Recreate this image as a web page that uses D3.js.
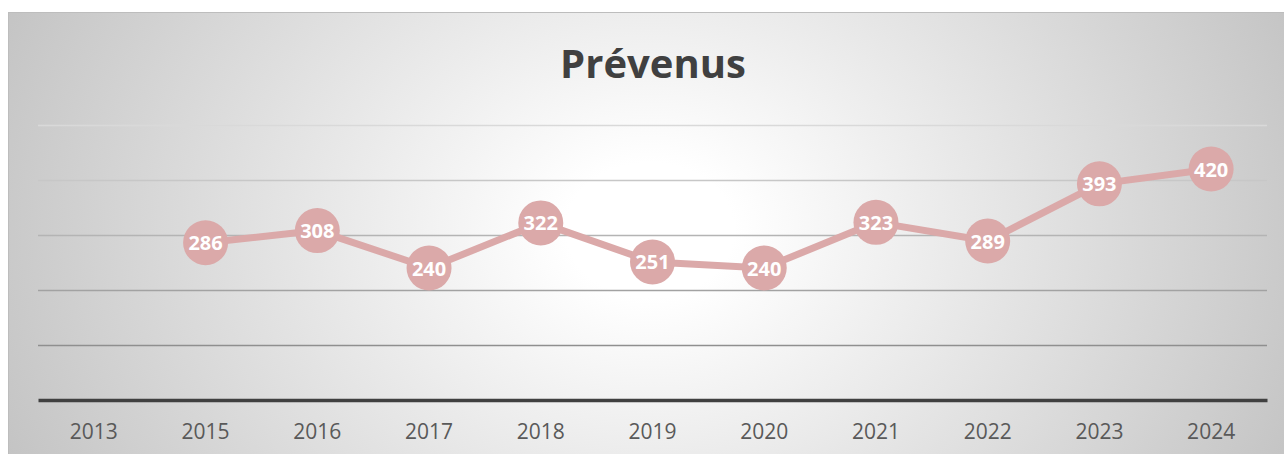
<!DOCTYPE html>
<html><head><meta charset="UTF-8">
<title>Prévenus</title>
<script src="https://d3js.org/d3.v7.min.js"></script>
<style>
  body { margin: 0; background: #fff; }
  svg { display: block; }
</style>
</head>
<body>
<svg id="chart" width="1284" height="454"></svg>
<script>
// catégories (années) et valeurs
var years = ["2013", "2015", "2016", "2017", "2018", "2019", "2020", "2021", "2022", "2023", "2024"];
var values = [null, 286, 308, 240, 322, 251, 240, 323, 289, 393, 420];
var yTicks = [0, 100, 200, 300, 400, 500];
var title = "Prévenus";

var W = 1284, H = 454;
var svg = d3.select("#chart");

// fond : dégradé radial
var defs = svg.append("defs");
var grad = defs.append("radialGradient").attr("id", "bg")
  .attr("gradientUnits", "userSpaceOnUse")
  .attr("cx", 650).attr("cy", 230).attr("r", 700)
  .attr("gradientTransform", "translate(650,230) scale(1,0.8) translate(-650,-230)");
grad.append("stop").attr("offset", "0.12").attr("stop-color", "#ffffff");
grad.append("stop").attr("offset", "1").attr("stop-color", "#c4c4c4");

svg.append("rect").attr("x", 8.5).attr("y", 12.5).attr("width", W).attr("height", H)
  .attr("fill", "url(#bg)").attr("stroke", "#bdbdbd").attr("stroke-width", 1);

var mLeft = 38, mRight = 1267, mTop = 125, mBottom = 400;

var x = d3.scaleBand().domain(years).range([mLeft, mRight]);
var y = d3.scaleLinear().domain([0, 500]).range([mBottom, mTop]);

// quadrillage
var gridColor = d3.scaleLinear().domain([100, 500]).range(["#8f8f8f", "#d9d9d9"]);
svg.append("g").selectAll("line")
  .data(yTicks.filter(function(d) { return d > 0; }))
  .enter().append("line")
  .attr("x1", mLeft).attr("x2", mRight)
  .attr("y1", function(d) { return y(d) + 0.5; })
  .attr("y2", function(d) { return y(d) + 0.5; })
  .attr("stroke", function(d) { return gridColor(d); })
  .attr("stroke-width", 1.3);

// axe x
var xAxis = svg.append("g").attr("transform", "translate(0," + mBottom + ")")
  .call(d3.axisBottom(x).tickSize(0).tickPadding(24));
xAxis.select(".domain").attr("stroke", "#404040").attr("stroke-width", 3.5);
xAxis.selectAll("text")
  .attr("font-family", "'Open Sans', sans-serif").attr("font-size", 21)
  .attr("fill", "#595959");

// titre
svg.append("text").attr("x", 653).attr("y", 78).attr("text-anchor", "middle")
  .attr("font-family", "'Open Sans', sans-serif").attr("font-weight", "bold")
  .attr("font-size", 40).attr("fill", "#404040").text(title);

var pts = years.map(function(d, i) { return { year: d, value: values[i] }; })
  .filter(function(d) { return d.value != null; });

var cx = function(d) { return x(d.year) + x.bandwidth() / 2; };

var line = d3.line().x(cx).y(function(d) { return y(d.value); });
svg.append("path").datum(pts).attr("d", line)
  .attr("fill", "none").attr("stroke", "#dba9a9").attr("stroke-width", 7)
  .attr("stroke-linejoin", "round");

var g = svg.append("g").selectAll("g").data(pts).enter().append("g");
g.append("circle").attr("cx", cx).attr("cy", function(d) { return y(d.value); })
  .attr("r", 22.5).attr("fill", "#dba9a9");
g.append("text").attr("x", cx).attr("y", function(d) { return y(d.value) + 7.5; })
  .attr("text-anchor", "middle")
  .attr("font-family", "'Open Sans', sans-serif").attr("font-weight", "bold")
  .attr("font-size", 20).attr("fill", "#ffffff")
  .text(function(d) { return d.value; });
</script>
</body></html>
